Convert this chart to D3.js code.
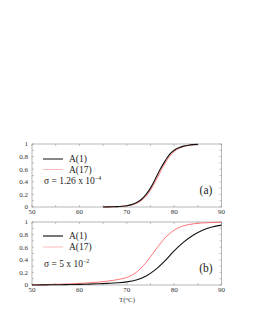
<!DOCTYPE html>
<html>
<head>
<meta charset="utf-8">
<script src="https://cdn.jsdelivr.net/npm/d3@7"></script>
<style>
  html, body { margin: 0; padding: 0; background: #fff; }
  svg { display: block; }
  svg text { font-family: "Liberation Serif", "Times New Roman", "DejaVu Serif", serif; }
</style>
</head>
<body>
<div id="chart"></div>
<script>
// panel (a): sigma = 1.26e-4
const tempA = [65, 66, 67, 68, 69, 70, 71, 72, 73, 74, 75, 76, 77, 78, 79, 80, 81, 82, 83, 84, 85];
const a1_A = [0.001, 0.002, 0.0035, 0.0064, 0.012, 0.021, 0.038, 0.067, 0.115, 0.192, 0.30, 0.44, 0.59, 0.72, 0.83, 0.90, 0.94, 0.966, 0.981, 0.99, 0.994];
const a17_A = [0.0009, 0.0016, 0.003, 0.0054, 0.0098, 0.018, 0.032, 0.057, 0.098, 0.165, 0.265, 0.40, 0.545, 0.685, 0.80, 0.88, 0.93, 0.96, 0.977, 0.987, 0.993];

// panel (b): sigma = 5e-2
const tempB = [50, 52, 54, 56, 58, 60, 62, 64, 66, 68, 70, 72, 74, 76, 78, 80, 82, 84, 86, 88, 90];
const a1_B = [0.0, 0.002, 0.003, 0.005, 0.007, 0.01, 0.014, 0.019, 0.026, 0.035, 0.05, 0.08, 0.14, 0.24, 0.38, 0.54, 0.68, 0.79, 0.87, 0.92, 0.95];
const a17_B = [0.004, 0.006, 0.009, 0.013, 0.018, 0.025, 0.034, 0.046, 0.062, 0.085, 0.12, 0.2, 0.35, 0.55, 0.74, 0.87, 0.94, 0.97, 0.985, 0.992, 0.996];

const xTicks = [50, 60, 70, 80, 90];
const yTicks = [0, 0.2, 0.4, 0.6, 0.8, 1];
const yTickLabels = ['0', '0.2', '0.4', '0.6', '0.8', '1'];

const width = 253, height = 327;
const left = 32, right = 221.5;

const svg = d3.select('#chart').append('svg')
  .attr('width', width)
  .attr('height', height);

const x = d3.scaleLinear().domain([50, 90]).range([left, right]);

// 画一个面板：边框、刻度、两条曲线
function drawPanel(top, bottom, temps, s1, s17) {
  const y = d3.scaleLinear().domain([0, 1]).range([bottom, top]);
  const g = svg.append('g');

  // minor ticks (inside)
  const yMinor = d3.range(0, 1.0001, 0.1);
  g.selectAll('.ym').data(yMinor).enter().append('line')
    .attr('x1', right).attr('x2', right - 2)
    .attr('y1', d => y(d)).attr('y2', d => y(d))
    .attr('stroke', '#888').attr('stroke-width', 0.5);
  g.selectAll('.ym2').data(yMinor).enter().append('line')
    .attr('x1', left).attr('x2', left + 2)
    .attr('y1', d => y(d)).attr('y2', d => y(d))
    .attr('stroke', '#888').attr('stroke-width', 0.5);
  const xMinor = d3.range(50, 90.001, 5);
  g.selectAll('.xm').data(xMinor).enter().append('line')
    .attr('x1', d => x(d)).attr('x2', d => x(d))
    .attr('y1', bottom).attr('y2', bottom - 2)
    .attr('stroke', '#888').attr('stroke-width', 0.5);
  g.selectAll('.xm2').data(xMinor).enter().append('line')
    .attr('x1', d => x(d)).attr('x2', d => x(d))
    .attr('y1', top).attr('y2', top + 2)
    .attr('stroke', '#888').attr('stroke-width', 0.5);

  // frame
  g.append('rect')
    .attr('x', left).attr('y', top)
    .attr('width', right - left).attr('height', bottom - top)
    .attr('fill', 'none').attr('stroke', '#888').attr('stroke-width', 0.6);

  // tick labels
  g.selectAll('.yl').data(yTicks).enter().append('text')
    .attr('x', left - 4).attr('y', d => y(d) + 2.3)
    .attr('text-anchor', 'end')
    .style('font-size', '7px').attr('fill', '#333')
    .text((d, i) => yTickLabels[i]);
  g.selectAll('.xl').data(xTicks).enter().append('text')
    .attr('x', d => x(d)).attr('y', bottom + 7)
    .attr('text-anchor', 'middle')
    .style('font-size', '7px').attr('fill', '#333')
    .text(d => d);

  // curves
  const line = d3.line()
    .x(d => x(d[0])).y(d => y(d[1]))
    .curve(d3.curveMonotoneX);
  g.append('path')
    .datum(temps.map((t, i) => [t, s17[i]]))
    .attr('d', line).attr('fill', 'none')
    .attr('stroke', '#ff5050').attr('stroke-width', 0.8);
  g.append('path')
    .datum(temps.map((t, i) => [t, s1[i]]))
    .attr('d', line).attr('fill', 'none')
    .attr('stroke', '#111').attr('stroke-width', 1.1);

  return { g, y };
}

function legend(g, y1, y17, ySig, sigmaBase, sigmaExp, blackColor, blackWidth) {
  g.append('line').attr('x1', 43).attr('x2', 63).attr('y1', y1).attr('y2', y1)
    .attr('stroke', blackColor).attr('stroke-width', blackWidth);
  g.append('text').attr('x', 69).attr('y', y1 + 3)
    .style('font-size', '9.5px').attr('fill', '#222').text('A(1)');
  g.append('line').attr('x1', 43).attr('x2', 63).attr('y1', y17).attr('y2', y17)
    .attr('stroke', '#ff9a9a').attr('stroke-width', 0.7);
  g.append('text').attr('x', 69).attr('y', y17 + 3)
    .style('font-size', '9.5px').attr('fill', '#222').text('A(17)');
  const t = g.append('text').attr('x', 44).attr('y', ySig + 3)
    .style('font-size', '9.5px').attr('fill', '#222');
  t.append('tspan').text('\u03c3 = ' + sigmaBase + ' x 10');
  t.append('tspan').attr('dy', -4).style('font-size', '6px').text(sigmaExp);
}

const pa = drawPanel(144, 207, tempA, a1_A, a17_A);
legend(pa.g, 159, 169.5, 181, '1.26', '\u22124', '#111', 1);
pa.g.append('text').attr('x', 206).attr('y', 194)
  .attr('text-anchor', 'middle').style('font-size', '11.5px').attr('fill', '#222').text('(a)');

const pb = drawPanel(222, 285, tempB, a1_B, a17_B);
legend(pb.g, 236, 247, 264, '5', '\u22122', '#555', 1.6);
pb.g.append('text').attr('x', 206).attr('y', 272)
  .attr('text-anchor', 'middle').style('font-size', '11.5px').attr('fill', '#222').text('(b)');

// x axis title
const title = svg.append('text').attr('x', 127).attr('y', 302)
  .attr('text-anchor', 'middle').style('font-size', '7px').attr('fill', '#333');
title.append('tspan').text('T(');
title.append('tspan').attr('dy', -2.5).style('font-size', '5px').text('o');
title.append('tspan').attr('dy', 2.5).text('C)');
</script>
</body>
</html>
